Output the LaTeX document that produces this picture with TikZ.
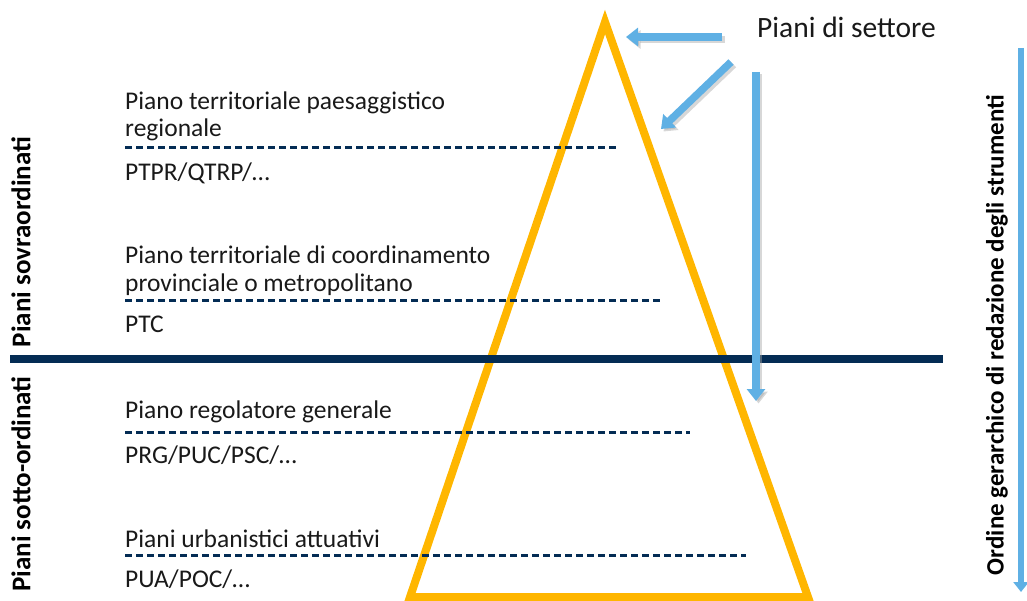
\documentclass[tikz,border=0pt]{standalone}
\usepackage{fontspec}
\setmainfont{Carlito}
\usetikzlibrary{arrows.meta}
\definecolor{navy}{RGB}{4,44,84}
\definecolor{pyr}{RGB}{255,182,0}
\definecolor{sky}{RGB}{95,176,228}
\tikzset{
  lbl/.style={anchor=base west, inner sep=0pt, font=\fontsize{25.5}{30}\selectfont, text=black!90},
  side/.style={inner sep=0pt, font=\bfseries\fontsize{27}{30}\selectfont, rotate=90},
  sep/.style={navy, line width=3pt, dash pattern=on 7pt off 4pt},
  barr/.style={sky, line width=7.5pt, -{Triangle[width=18pt,length=12pt]}},
  shad/.style={black!35, opacity=0.45, line width=7.5pt, -{Triangle[width=18pt,length=12pt]}},
}
\begin{document}
\begin{tikzpicture}[x=1pt,y=-1pt]
\useasboundingbox (0,0) rectangle (1027,601);
% pyramid
\coordinate (apex) at (605,22);
\coordinate (bl) at (410,597);
\coordinate (br) at (808,597);
\draw[pyr, line width=8pt, line join=miter] (apex) -- (br) -- (bl) -- cycle;
% main divider
\coordinate (d1) at (10,359);
\coordinate (d2) at (943,359);
\draw[navy, line width=8pt] (d1) -- (d2);
% blue arrows
\coordinate (a1s) at (722,37); \coordinate (a1e) at (626,37);
\coordinate (a2s) at (731,62); \coordinate (a2e) at (661,129);
\coordinate (a3s) at (756,72); \coordinate (a3e) at (756,401);
\coordinate (a4s) at (1021,48); \coordinate (a4e) at (1021,592);
\foreach \s/\e in {a1s/a1e,a2s/a2e,a3s/a3e}{
  \draw[shad] ([shift={(2.5,2.5)}]\s) -- ([shift={(2.5,2.5)}]\e);
}
\foreach \s/\e in {a1s/a1e,a2s/a2e,a3s/a3e}{
  \draw[barr] (\s) -- (\e);
}
\draw[sky, line width=6pt, -{Triangle[width=15pt,length=10pt]}] (a4s) -- (a4e);
% labels
\node[anchor=base west, inner sep=0pt, font=\fontsize{29.5}{34}\selectfont, text=black!90] (ps) at (757,38) {Piani di settore};
\node[lbl] (t1a) at (125,110) {Piano territoriale paesaggistico};
\node[lbl] (t1b) at (125,137) {regionale};
\node[lbl] (t1c) at (125,181) {PTPR/QTRP/…};
\node[lbl] (t2a) at (125,264) {Piano territoriale di coordinamento};
\node[lbl] (t2b) at (125,291) {provinciale o metropolitano};
\node[lbl] (t2c) at (125,332) {PTC};
\node[lbl] (t3a) at (125,418) {Piano regolatore generale};
\node[lbl] (t3c) at (125,463) {PRG/PUC/PSC/…};
\node[lbl] (t4a) at (125,547) {Piani urbanistici attuativi};
\node[lbl] (t4c) at (125,587) {PUA/POC/…};
% dashed separators
\coordinate (s1a) at (125,148); \coordinate (s1b) at (617,148);
\coordinate (s2a) at (125,301); \coordinate (s2b) at (662,301);
\coordinate (s3a) at (125,432); \coordinate (s3b) at (690,432);
\coordinate (s4a) at (125,555); \coordinate (s4b) at (746,555);
\draw[sep] (s1a) -- (s1b);
\draw[sep] (s2a) -- (s2b);
\draw[sep] (s3a) -- (s3b);
\draw[sep] (s4a) -- (s4b);
% side labels
\node[side] (sov) at (21,242) {Piani sovraordinati};
\node[side] (sot) at (21,484) {Piani sotto-ordinati};
\node[side, font=\bfseries\fontsize{25}{30}\selectfont] (ord) at (997,335) {Ordine gerarchico di redazione degli strumenti};
\end{tikzpicture}
\end{document}
